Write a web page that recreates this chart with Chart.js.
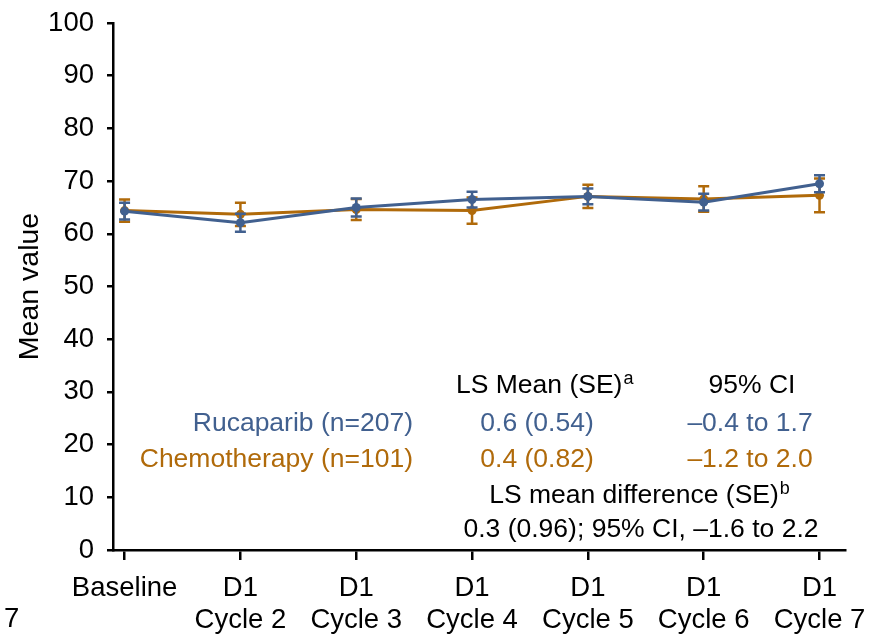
<!DOCTYPE html>
<html>
<head>
<meta charset="utf-8">
<script src="https://cdn.jsdelivr.net/npm/chart.js@4"></script>
<style>
  body { margin: 0; background: #fff; }
  canvas { display: block; }
</style>
</head>
<body>
<canvas id="qolChart" width="869" height="637"></canvas>
<script>
// Mean value by visit, rucaparib vs chemotherapy, with error bars

const categories = ["Baseline", ["D1", "Cycle 2"], ["D1", "Cycle 3"], ["D1", "Cycle 4"], ["D1", "Cycle 5"], ["D1", "Cycle 6"], ["D1", "Cycle 7"]];
const yTicks = [0, 10, 20, 30, 40, 50, 60, 70, 80, 90, 100];

const rucaparibMean = [64.3, 62.1, 65.0, 66.5, 67.1, 66.0, 69.5];
const rucaparibErr = [1.6, 1.7, 1.7, 1.5, 1.5, 1.6, 1.6];
const chemoMean = [64.4, 63.7, 64.6, 64.4, 67.1, 66.6, 67.3];
const chemoErr = [2.1, 2.2, 2.0, 2.5, 2.2, 2.4, 3.2];

const BLUE = "#41608f";
const ORANGE = "#b06a0a";
const FONT = "'Liberation Sans', Arial, sans-serif";

const toPoints = (arr) => arr.map((v, i) => ({ x: i, y: v }));

// draws vertical error bars with caps for each line dataset
const errorBars = {
  id: "errorBars",
  afterDatasetDraw(chart, args) {
    const ds = chart.data.datasets[args.index];
    if (!ds.errors) return;
    const { ctx, scales } = chart;
    ctx.save();
    ctx.strokeStyle = ds.borderColor;
    ctx.lineWidth = 2.5;
    ds.data.forEach((p, i) => {
      const x = scales.x.getPixelForValue(p.x);
      const yTop = scales.y.getPixelForValue(p.y + ds.errors[i]);
      const yBot = scales.y.getPixelForValue(p.y - ds.errors[i]);
      ctx.beginPath();
      ctx.moveTo(x, yTop); ctx.lineTo(x, yBot);
      ctx.moveTo(x - 5.5, yTop); ctx.lineTo(x + 5.5, yTop);
      ctx.moveTo(x - 5.5, yBot); ctx.lineTo(x + 5.5, yBot);
      ctx.stroke();
    });
    ctx.restore();
  }
};

// the little table of LS means inside the plot
const statsTable = {
  id: "statsTable",
  afterDraw(chart) {
    const ctx = chart.ctx;
    ctx.save();
    ctx.textBaseline = "middle";
    ctx.font = "26.5px " + FONT;

    ctx.fillStyle = "#000";
    ctx.textAlign = "left";
    ctx.fillText("LS Mean (SE)", 456, 386);
    const w = ctx.measureText("LS Mean (SE)").width;
    ctx.font = "18px " + FONT;
    ctx.fillText("a", 456 + w + 1, 379);
    ctx.font = "26.5px " + FONT;
    ctx.textAlign = "center";
    ctx.fillText("95% CI", 752, 386);

    ctx.fillStyle = BLUE;
    ctx.textAlign = "right";
    ctx.fillText("Rucaparib (n=207)", 413, 424);
    ctx.textAlign = "center";
    ctx.fillText("0.6 (0.54)", 537, 424);
    ctx.fillText("\u20130.4 to 1.7", 750, 424);

    ctx.fillStyle = ORANGE;
    ctx.textAlign = "right";
    ctx.fillText("Chemotherapy (n=101)", 413, 460);
    ctx.textAlign = "center";
    ctx.fillText("0.4 (0.82)", 537, 460);
    ctx.fillText("\u20131.2 to 2.0", 750, 460);

    ctx.fillStyle = "#000";
    const t = "LS mean difference (SE)";
    const tw = ctx.measureText(t).width;
    ctx.textAlign = "left";
    ctx.fillText(t, 634 - tw / 2, 496);
    ctx.font = "18px " + FONT;
    ctx.fillText("b", 634 + tw / 2 + 1, 489);
    ctx.font = "26.5px " + FONT;
    ctx.textAlign = "center";
    ctx.fillText("0.3 (0.96); 95% CI, \u20131.6 to 2.2", 641, 530);

    ctx.textAlign = "left";
    ctx.font = "27.5px " + FONT;
    ctx.fillText("7", 4, 619);
    ctx.restore();
  }
};

new Chart(document.getElementById("qolChart"), {
  type: "line",
  data: {
    datasets: [
      {
        label: "Rucaparib",
        data: toPoints(rucaparibMean),
        errors: rucaparibErr,
        borderColor: BLUE,
        backgroundColor: BLUE,
        borderWidth: 3,
        pointRadius: 4.5,
        pointBorderWidth: 0,
        tension: 0
      },
      {
        label: "Chemotherapy",
        data: toPoints(chemoMean),
        errors: chemoErr,
        borderColor: ORANGE,
        backgroundColor: ORANGE,
        borderWidth: 3,
        pointRadius: 4.5,
        pointBorderWidth: 0,
        tension: 0
      }
    ]
  },
  options: {
    responsive: false,
    animation: false,
    layout: { padding: { top: 23, right: 24, left: 0, bottom: 0 } },
    plugins: {
      legend: { display: false },
      tooltip: { enabled: false }
    },
    scales: {
      x: {
        type: "linear",
        min: -0.1,
        max: 6.22,
        afterBuildTicks: (s) => { s.ticks = categories.map((c, i) => ({ value: i })); },
        afterFit: (s) => { s.height = 87; s.paddingRight = 0; s.paddingLeft = 0; },
        border: { display: true, color: "#000", width: 2.5 },
        grid: { drawOnChartArea: false, drawTicks: true, tickLength: 10, color: "#000", lineWidth: 2.5 },
        ticks: {
          padding: 12,
          color: "#000",
          maxRotation: 0,
          autoSkip: false,
          font: { family: FONT, size: 27.5, lineHeight: 1.17 },
          callback: (v) => categories[v]
        }
      },
      y: {
        min: 0,
        max: 100,
        afterBuildTicks: (s) => { s.ticks = yTicks.map((v) => ({ value: v })); },
        afterFit: (s) => { s.width = 113; s.paddingTop = 0; s.paddingBottom = 0; },
        border: { display: true, color: "#000", width: 2.5 },
        grid: { drawOnChartArea: false, drawTicks: true, tickLength: 6, color: "#000", lineWidth: 2.5 },
        ticks: {
          padding: 13,
          color: "#000",
          font: { family: FONT, size: 27.5 }
        },
        title: {
          display: true,
          text: "Mean value",
          color: "#000",
          padding: { top: 13, bottom: 0 },
          font: { family: FONT, size: 28.5, lineHeight: 1.2 }
        }
      }
    }
  },
  plugins: [errorBars, statsTable]
});
</script>
</body>
</html>
